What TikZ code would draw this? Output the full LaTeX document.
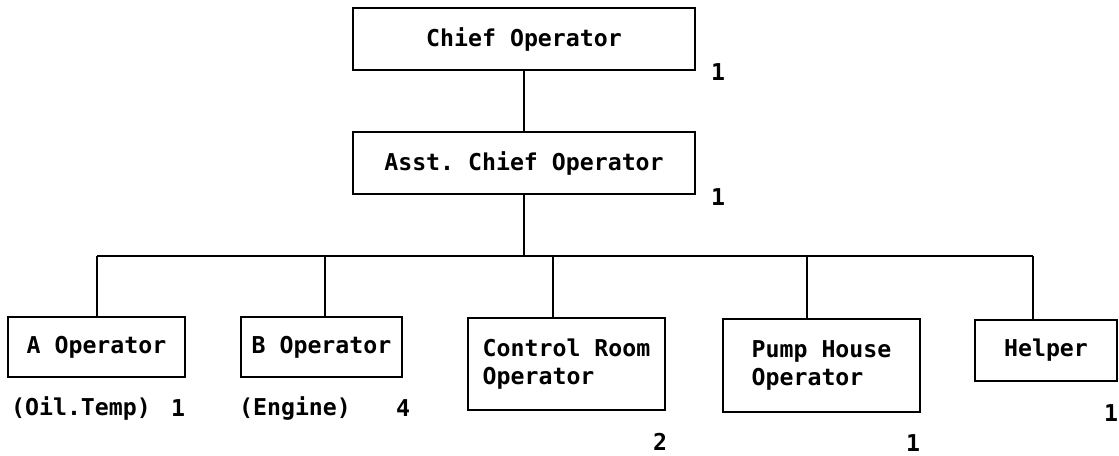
\documentclass[tikz,border=0pt]{standalone}
\usepackage{fontspec}
\setmonofont{DejaVu Sans Mono}
\begin{document}
\begin{tikzpicture}[x=0.75pt,y=-0.75pt,
  box/.style={draw,line width=1.3pt,inner sep=0pt,font=\ttfamily\bfseries\fontsize{17.4}{21}\selectfont},
  cnt/.style={inner sep=0pt,font=\ttfamily\bfseries\fontsize{17.4}{21}\selectfont},
  conn/.style={line width=1.3pt}]
\useasboundingbox (0,0) rectangle (1119,455);
% boxes
\node[box,minimum width=256.5pt,minimum height=46.5pt] (chief) at (524,39) {Chief Operator};
\node[box,minimum width=256.5pt,minimum height=46.5pt] (asst) at (524,163) {Asst. Chief Operator};
\node[box,minimum width=132.75pt,minimum height=45pt] (aop) at (96.5,347) {A Operator};
\node[box,minimum width=120.75pt,minimum height=45pt] (bop) at (321.5,347) {B Operator};
\node[box,minimum width=147.75pt,minimum height=69pt,align=left] (ctrl) at (566.5,364) {Control Room\\Operator};
\node[box,minimum width=147.75pt,minimum height=69.75pt,align=left] (pump) at (821.5,365.5) {Pump House\\Operator};
\node[box,minimum width=106.5pt,minimum height=45.75pt] (help) at (1046,350.5) {Helper};
% counts and notes
\node[cnt] (n1) at (718,72) {1};
\node[cnt] (n2) at (718,197) {1};
\node[cnt] (oil) at (81,408) {(Oil.Temp)};
\node[cnt] (n3) at (178,408) {1};
\node[cnt] (eng) at (295,408) {(Engine)};
\node[cnt] (n4) at (403,408) {4};
\node[cnt] (n5) at (660,442) {2};
\node[cnt] (n6) at (913,443) {1};
\node[cnt] (n7) at (1111,413) {1};
% connectors
\coordinate (busL) at (97,256);
\coordinate (busR) at (1033,256);
\coordinate (tA) at (97,256);
\coordinate (tB) at (325,256);
\coordinate (tC) at (553,256);
\coordinate (tP) at (807,256);
\coordinate (tH) at (1033,256);
\draw[conn] (chief.south) -- (asst.north);
\draw[conn] (asst.south) -- (asst.south |- busL);
\draw[conn] (busL) -- (busR);
\draw[conn] (tA) -- (tA |- aop.north);
\draw[conn] (tB) -- (tB |- bop.north);
\draw[conn] (tC) -- (tC |- ctrl.north);
\draw[conn] (tP) -- (tP |- pump.north);
\draw[conn] (tH) -- (tH |- help.north);
\end{tikzpicture}
\end{document}
